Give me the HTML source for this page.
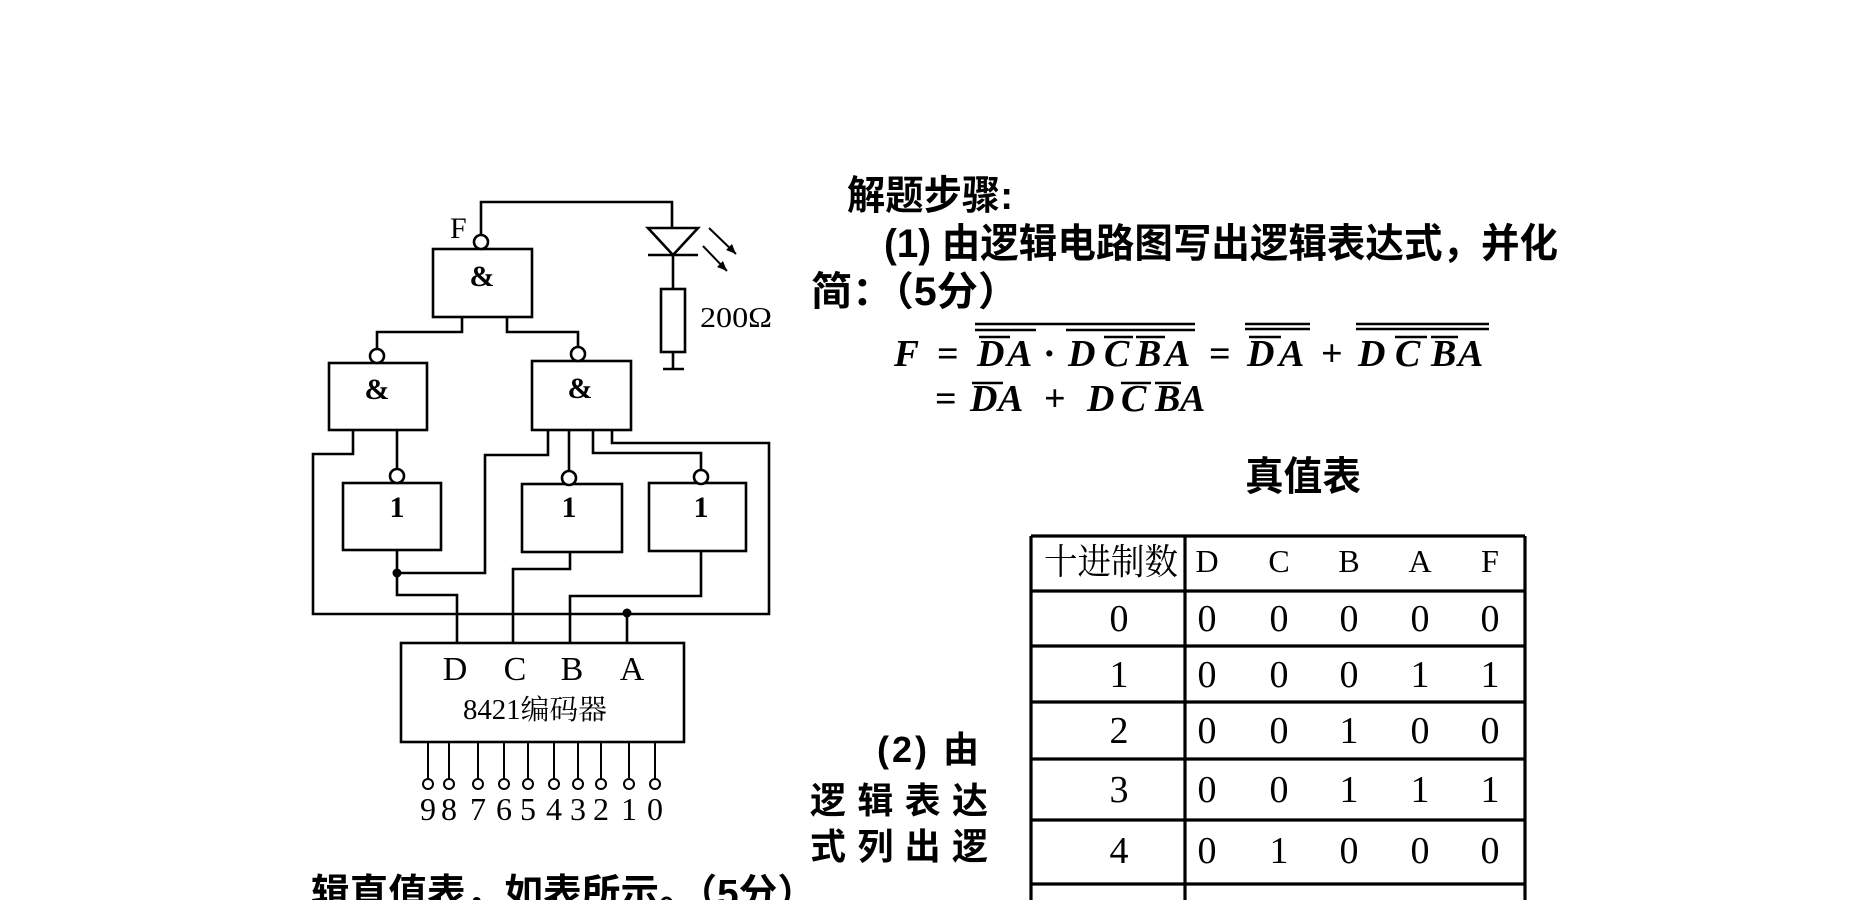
<!DOCTYPE html>
<html><head><meta charset="utf-8"><style>
html,body{margin:0;padding:0;background:#fff;width:1863px;height:900px;overflow:hidden}
svg{display:block}
.cj{font-family:"Liberation Sans","Noto Sans CJK SC",sans-serif;font-weight:bold}
.sr{font-family:"Liberation Serif","Noto Serif CJK SC",serif}
.fm{font-family:"Liberation Serif",serif;font-style:italic;font-size:38px;font-weight:bold}
</style></head><body>
<svg width="1863" height="900" viewBox="0 0 1863 900" xmlns="http://www.w3.org/2000/svg">
<g fill="none" stroke="#000" stroke-width="2.6">
<rect x="433" y="249" width="99" height="68"/>
<circle cx="481" cy="242" r="7" fill="#fff"/>
<path d="M481 235 V202 H672 V228"/>
<path d="M648 228 H698 L673 255 Z"/>
<path d="M648 255 H698 M673 255 V289"/>
<rect x="661" y="289" width="24" height="63"/>
<path d="M673 352 V369 M663 369 H684"/>
<path d="M709 228 L736 254 M703 246 L727 271" stroke-width="2"/>
<rect x="329" y="363" width="98" height="67"/>
<circle cx="377" cy="356" r="7" fill="#fff"/>
<rect x="532" y="361" width="99" height="69"/>
<circle cx="578" cy="354" r="7" fill="#fff"/>
<path d="M462 317 V332 H377 V349"/>
<path d="M507 317 V332 H578 V347"/>
<rect x="343" y="483" width="98" height="67"/>
<circle cx="397" cy="476" r="7" fill="#fff"/>
<rect x="522" y="484" width="100" height="68"/>
<circle cx="569" cy="478" r="7" fill="#fff"/>
<rect x="649" y="483" width="97" height="68"/>
<circle cx="701" cy="477" r="7" fill="#fff"/>
<path d="M353 430 V454 H313 V614 H769 V443 H612 V430"/>
<path d="M397 430 V469"/>
<path d="M548 430 V455 H485 V573 H397"/>
<path d="M569 430 V471"/>
<path d="M593 430 V453 H701 V470"/>
<path d="M397 550 V595 H457 V643"/>
<path d="M570 552 V569 H513 V643"/>
<path d="M701 551 V596 H570 V643"/>
<path d="M627 613 V643"/>
<rect x="401" y="643" width="283" height="99"/>
<g stroke-width="2">
<path d="M428 742 V778 M449 742 V778 M478 742 V778 M504 742 V778 M528 742 V778 M554 742 V778 M578 742 V778 M601 742 V778 M629 742 V778 M655 742 V778"/>
<circle cx="428" cy="784" r="5" fill="#fff"/><circle cx="449" cy="784" r="5" fill="#fff"/><circle cx="478" cy="784" r="5" fill="#fff"/><circle cx="504" cy="784" r="5" fill="#fff"/><circle cx="528" cy="784" r="5" fill="#fff"/><circle cx="554" cy="784" r="5" fill="#fff"/><circle cx="578" cy="784" r="5" fill="#fff"/><circle cx="601" cy="784" r="5" fill="#fff"/><circle cx="629" cy="784" r="5" fill="#fff"/><circle cx="655" cy="784" r="5" fill="#fff"/>
</g>
</g>
<g fill="#000">
<path d="M736 254 L726 250 L732 244 Z M727 271 L717 267 L723 261 Z"/>
<circle cx="397" cy="573" r="4.5"/>
<circle cx="627" cy="613" r="4.5"/>
</g>
<g class="sr" fill="#000">
<text x="450" y="238" font-size="30">F</text>
<text x="700" y="327" font-size="28" textLength="72" lengthAdjust="spacingAndGlyphs">200Ω</text>
<g font-weight="bold" font-size="30" text-anchor="middle">
<text x="482" y="286">&amp;</text>
<text x="377" y="399">&amp;</text>
<text x="580" y="398">&amp;</text>
<text x="397" y="517">1</text>
<text x="569" y="517">1</text>
<text x="701" y="517">1</text>
</g>
<g font-size="34" text-anchor="middle">
<text x="455" y="680">D</text><text x="515" y="680">C</text><text x="572" y="680">B</text><text x="632" y="680">A</text>
</g>
<text x="463" y="719" font-size="28" textLength="144" lengthAdjust="spacingAndGlyphs">8421编码器</text>
<g font-size="32" text-anchor="middle">
<text x="428" y="820">9</text><text x="449" y="820">8</text><text x="478" y="820">7</text><text x="504" y="820">6</text><text x="528" y="820">5</text><text x="554" y="820">4</text><text x="578" y="820">3</text><text x="601" y="820">2</text><text x="629" y="820">1</text><text x="655" y="820">0</text>
</g>
</g>
<g class="cj" fill="#000">
<text x="847" y="209" font-size="40" textLength="166" lengthAdjust="spacingAndGlyphs">解题步骤:</text>
<text x="884" y="257" font-size="40" textLength="674" lengthAdjust="spacingAndGlyphs">(1) 由逻辑电路图写出逻辑表达式，并化</text>
<text x="811" y="305" font-size="40" textLength="208" lengthAdjust="spacingAndGlyphs">简：（5分）</text>
<text x="1245" y="490" font-size="40" textLength="116" lengthAdjust="spacingAndGlyphs">真值表</text>
<text x="877" y="762" font-size="36" textLength="102" lengthAdjust="spacing">(2) 由</text>
<text x="810" y="813" font-size="36" textLength="178" lengthAdjust="spacing">逻辑表达</text>
<text x="810" y="859" font-size="36" textLength="178" lengthAdjust="spacing">式列出逻</text>
<text x="311" y="906" font-size="38" textLength="505" lengthAdjust="spacingAndGlyphs">辑直值表，如表所示。（5分）</text>
</g>
<g class="fm" fill="#000">
<text x="894" y="366" textLength="25" lengthAdjust="spacingAndGlyphs">F</text>
<text x="937" y="366" font-style="normal">=</text>
<text x="977" y="366">D</text><text x="1007" y="366">A</text>
<text x="1043" y="366" font-style="normal">·</text>
<text x="1068" y="366">D</text><text x="1104" y="366">C</text><text x="1136" y="366">B</text><text x="1165" y="366">A</text>
<text x="1209" y="366" font-style="normal">=</text>
<text x="1247" y="366">D</text><text x="1279" y="366">A</text>
<text x="1321" y="366" font-style="normal">+</text>
<text x="1358" y="366">D</text><text x="1395" y="366">C</text><text x="1431" y="366">B</text><text x="1458" y="366">A</text>
<text x="935" y="411" font-style="normal">=</text>
<text x="970" y="411">D</text><text x="998" y="411">A</text>
<text x="1044" y="411" font-style="normal">+</text>
<text x="1087" y="411">D</text><text x="1121" y="411">C</text><text x="1155" y="411">B</text><text x="1180" y="411">A</text>
</g>
<g stroke="#000" stroke-width="2.4">
<path d="M975 324 H1195 M975 330 H1036 M1066 330 H1195 M979 337 H1010 M1104 337 H1133 M1136 337 H1165"/>
<path d="M1245 324 H1310 M1245 329 H1310 M1249 337 H1281"/>
<path d="M1356 324 H1489 M1356 329 H1489 M1395 337 H1427 M1431 337 H1458"/>
<path d="M972 383 H1003 M1121 383 H1151 M1155 383 H1181"/>
</g>
<g stroke="#000" stroke-width="3.2" fill="none">
<path d="M1031 536 H1525 M1031 591 H1525 M1031 646 H1525 M1031 702 H1525 M1031 759 H1525 M1031 820 H1525 M1031 884 H1525"/>
<path d="M1031 536 V900 M1185 536 V900 M1525 536 V900"/>
</g>
<g class="sr" fill="#000" text-anchor="middle" font-size="38">
<text x="1044" y="574" font-size="36" text-anchor="start" textLength="134" lengthAdjust="spacingAndGlyphs">十进制数</text>
<g font-size="32"><text x="1207" y="572">D</text><text x="1279" y="572">C</text><text x="1349" y="572">B</text><text x="1420" y="572">A</text><text x="1490" y="572">F</text></g>
<text x="1119" y="631">0</text><text x="1207" y="631">0</text><text x="1279" y="631">0</text><text x="1349" y="631">0</text><text x="1420" y="631">0</text><text x="1490" y="631">0</text>
<text x="1119" y="687">1</text><text x="1207" y="687">0</text><text x="1279" y="687">0</text><text x="1349" y="687">0</text><text x="1420" y="687">1</text><text x="1490" y="687">1</text>
<text x="1119" y="743">2</text><text x="1207" y="743">0</text><text x="1279" y="743">0</text><text x="1349" y="743">1</text><text x="1420" y="743">0</text><text x="1490" y="743">0</text>
<text x="1119" y="802">3</text><text x="1207" y="802">0</text><text x="1279" y="802">0</text><text x="1349" y="802">1</text><text x="1420" y="802">1</text><text x="1490" y="802">1</text>
<text x="1119" y="863">4</text><text x="1207" y="863">0</text><text x="1279" y="863">1</text><text x="1349" y="863">0</text><text x="1420" y="863">0</text><text x="1490" y="863">0</text>
<text x="1119" y="928">5</text><text x="1207" y="928">0</text><text x="1279" y="928">1</text><text x="1349" y="928">0</text><text x="1420" y="928">1</text><text x="1490" y="928">1</text>
</g>
</svg>
</body></html>
